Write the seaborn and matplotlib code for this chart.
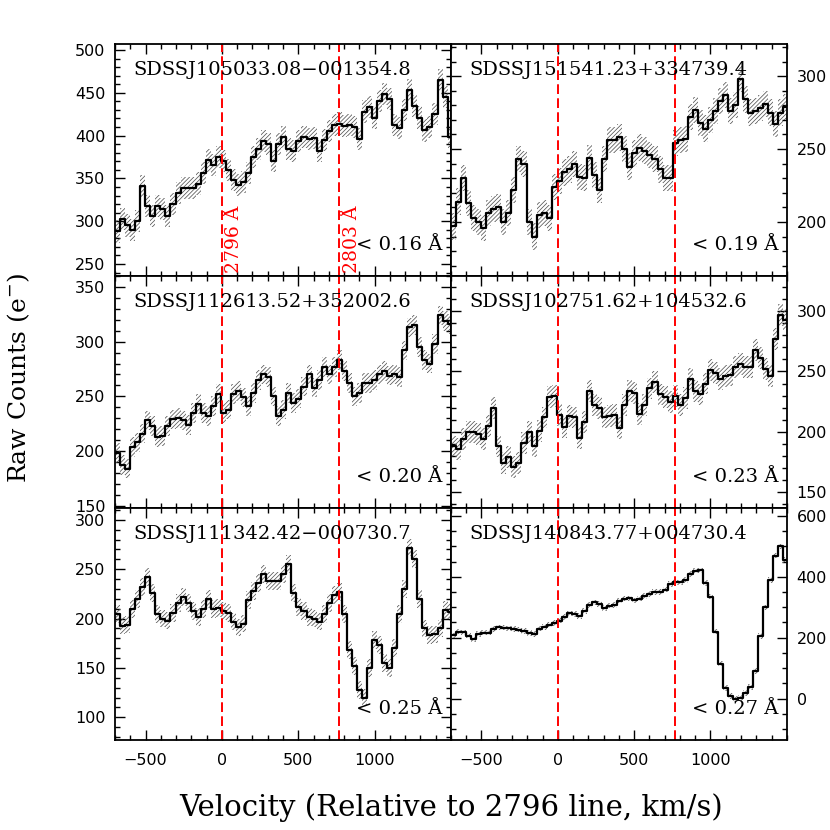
import numpy as np
import matplotlib
matplotlib.use('Agg')
import matplotlib.pyplot as plt
import seaborn as sns
from matplotlib.ticker import MultipleLocator

# velocity bins (km/s, relative to 2796)
v_start = -700
v_step = 33
line_2803 = 770

names = ['SDSSJ105033.08\u2212001354.8', 'SDSSJ151541.23+334739.4',
         'SDSSJ112613.52+352002.6', 'SDSSJ102751.62+104532.6',
         'SDSSJ111342.42\u2212000730.7', 'SDSSJ140843.77+004730.4']
limits = ['< 0.16 \u00c5', '< 0.19 \u00c5', '< 0.20 \u00c5',
          '< 0.23 \u00c5', '< 0.25 \u00c5', '< 0.27 \u00c5']

flux_tl = [288, 303, 295, 290, 300, 341, 318, 306, 318, 314, 306, 320, 333, 339,
           339, 339, 344, 356, 371, 366, 375, 370, 360, 348, 342, 346, 356, 375,
           384, 394, 390, 370, 390, 398, 384, 382, 394, 398, 396, 397, 382, 395,
           405, 412, 414, 411, 412, 410, 396, 428, 433, 421, 440, 449, 443, 412,
           409, 430, 453, 435, 421, 406, 410, 425, 465, 445, 398]
flux_tr = [197, 214, 230, 213, 203, 200, 196, 206, 209, 210, 200, 206, 222, 243,
           240, 200, 190, 205, 206, 203, 224, 228, 234, 236, 240, 231, 230, 244,
           232, 222, 243, 256, 256, 258, 250, 238, 247, 251, 249, 246, 243, 236,
           230, 230, 254, 256, 257, 272, 277, 268, 264, 270, 276, 283, 287, 276,
           280, 298, 284, 275, 276, 278, 281, 275, 267, 275, 279]
flux_ml = [198, 187, 184, 204, 208, 216, 228, 223, 213, 214, 223, 229, 230, 228,
           224, 235, 243, 235, 232, 241, 252, 235, 238, 252, 255, 249, 241, 253,
           265, 270, 268, 250, 232, 238, 253, 244, 248, 259, 270, 258, 265, 277,
           270, 277, 283, 273, 262, 250, 253, 262, 262, 265, 270, 273, 269, 270,
           268, 292, 313, 315, 295, 283, 280, 298, 324, 319, 316]
flux_mr = [188, 186, 194, 200, 200, 198, 194, 205, 220, 188, 174, 179, 171, 174,
           191, 200, 188, 201, 212, 229, 230, 214, 204, 213, 212, 195, 208, 234,
           222, 220, 212, 213, 214, 203, 222, 234, 232, 215, 222, 236, 241, 231,
           229, 225, 230, 222, 228, 244, 234, 231, 240, 251, 249, 244, 246, 247,
           254, 256, 254, 254, 268, 261, 252, 246, 277, 297, 293]
flux_bl = [205, 193, 194, 210, 220, 232, 242, 226, 205, 200, 198, 206, 216, 222,
           216, 208, 202, 210, 220, 210, 211, 208, 206, 197, 191, 195, 219, 228,
           236, 245, 238, 238, 238, 245, 255, 226, 212, 208, 202, 200, 197, 205,
           216, 224, 227, 205, 168, 152, 128, 120, 150, 178, 173, 155, 150, 170,
           205, 230, 272, 260, 220, 190, 183, 184, 190, 209, 207]
flux_br = [208, 220, 218, 207, 195, 212, 217, 217, 228, 234, 233, 231, 229, 227,
           222, 216, 212, 230, 235, 243, 248, 256, 268, 280, 278, 272, 288, 308,
           316, 310, 298, 305, 308, 322, 328, 329, 323, 328, 337, 344, 350, 350,
           358, 376, 383, 382, 390, 410, 420, 421, 380, 335, 220, 115, 35, 8,
           0, 2, 18, 38, 90, 205, 300, 390, 470, 500, 455]
fluxes = [flux_tl, flux_tr, flux_ml, flux_mr, flux_bl, flux_br]
errors = [13, 9, 9, 9, 9, 9]

ylims = [(236, 507), (163, 322), (148, 360), (137, 329), (77, 312), (-136, 626)]
yticks = [[250, 300, 350, 400, 450, 500], [200, 250, 300], [150, 200, 250, 300, 350],
          [150, 200, 250, 300], [100, 150, 200, 250, 300], [0, 200, 400, 600]]
yminor = [10, 10, 10, 10, 10, 50]
xticks = [-500, 0, 500, 1000]

sns.set_style('ticks')
plt.rcParams['font.family'] = ['DejaVu Serif']
plt.rcParams['text.color'] = 'black'
plt.rcParams['axes.edgecolor'] = 'black'
plt.rcParams['xtick.color'] = 'black'
plt.rcParams['ytick.color'] = 'black'
plt.rcParams['hatch.color'] = '#555555'
plt.rcParams['hatch.linewidth'] = 0.55

fig, axes = plt.subplots(3, 2, figsize=(8.3, 8.3), dpi=100)
fig.subplots_adjust(left=0.1386, right=0.948, top=0.947, bottom=0.1084,
                    hspace=0, wspace=0)

for k, ax in enumerate(axes.flat):
    f = np.array(fluxes[k], dtype=float)
    edges = v_start + v_step * np.arange(len(f) + 1)
    ff = np.append(f, f[-1])
    ax.fill_between(edges, ff - errors[k], ff + errors[k], step='post',
                    facecolor='none', edgecolor='#555555', hatch='////////', linewidth=0)
    sns.lineplot(x=edges, y=ff, ax=ax, drawstyle='steps-post', color='black',
                 lw=1.6, estimator=None)
    ax.axvline(0, color='red', ls=(0, (5, 2.2)), lw=1.4)
    ax.axvline(line_2803, color='red', ls=(0, (5, 2.2)), lw=1.4)
    ax.set_xlim(-700, 1500)
    ax.set_ylim(*ylims[k])
    ax.set_yticks(yticks[k])
    ax.set_xticks(xticks)
    ax.xaxis.set_minor_locator(MultipleLocator(100))
    ax.yaxis.set_minor_locator(MultipleLocator(yminor[k]))
    right = (k % 2 == 1)
    bottom = (k >= 4)
    ax.tick_params(which='both', direction='in', top=True, right=True, left=True,
                   bottom=True, labelleft=not right, labelright=right,
                   labelbottom=bottom, labelsize=11.5, colors='black')
    ax.tick_params(which='major', length=7, width=1)
    ax.tick_params(which='minor', length=3.5, width=1)
    ax.tick_params(axis='y', pad=7)
    ax.tick_params(axis='x', pad=9)
    for lab in ax.get_xticklabels() + ax.get_yticklabels():
        lab.set_family('DejaVu Sans')
    for s in ax.spines.values():
        s.set_linewidth(1.3)
        s.set_color('black')
    ax.text(0.054, 0.89, names[k], transform=ax.transAxes, fontsize=14,
            ha='left', va='center', color='black')
    ax.text(0.975, 0.135, limits[k], transform=ax.transAxes, fontsize=14,
            ha='right', va='center', color='black')
    ax.set_xlabel('')
    ax.set_ylabel('')

axes[0, 0].text(22, 0.015, '2796 \u00c5', color='red', rotation=90, fontsize=13.5,
                ha='left', va='bottom', transform=axes[0, 0].get_xaxis_transform())
axes[0, 0].text(line_2803 + 22, 0.015, '2803 \u00c5', color='red', rotation=90,
                fontsize=13.5, ha='left', va='bottom',
                transform=axes[0, 0].get_xaxis_transform())

fig.text(0.543, 0.0265, 'Velocity (Relative to 2796 line, km/s)', ha='center',
         va='center', fontsize=21, color='black')
fig.text(0.022, 0.545, 'Raw Counts (e$^{-}$)', ha='center', va='center',
         rotation=90, fontsize=18, color='black')

fig.savefig('out.png', dpi=100)
